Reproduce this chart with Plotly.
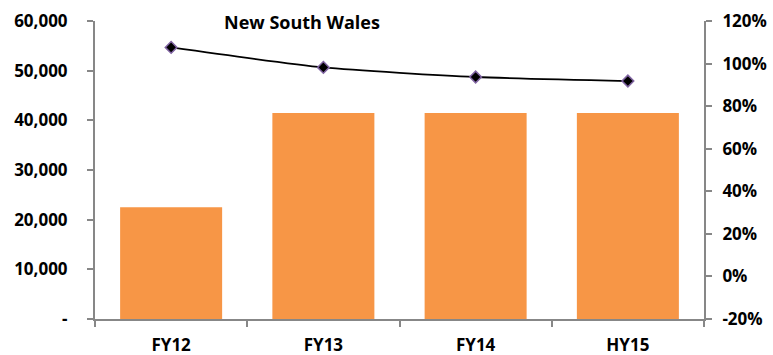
import plotly.graph_objects as go

# Data
categories = ["FY12", "FY13", "FY14", "HY15"]
bar_values = [22500, 41500, 41500, 41500]
line_values = [1.076, 0.982, 0.937, 0.918]

left_tickvals = [0, 10000, 20000, 30000, 40000, 50000, 60000]
left_ticktext = ["-", "10,000", "20,000", "30,000", "40,000", "50,000", "60,000"]
right_tickvals = [-0.2, 0.0, 0.2, 0.4, 0.6, 0.8, 1.0, 1.2]
right_ticktext = ["-20%", "0%", "20%", "40%", "60%", "80%", "100%", "120%"]

title_text = "New South Wales"

FONT = "Open Sans"
AXIS_GREY = "#878787"

fig = go.Figure()

fig.add_trace(go.Bar(
    x=categories,
    y=bar_values,
    marker=dict(color="#F79646", line=dict(width=0)),
    yaxis="y",
    showlegend=False,
))

fig.add_trace(go.Scatter(
    x=categories,
    y=line_values,
    mode="lines+markers",
    line=dict(color="#000000", width=1.8, shape="spline", smoothing=0.6),
    marker=dict(symbol="diamond", size=9, color="#000000",
                line=dict(color="#8064A2", width=1.5)),
    yaxis="y2",
    showlegend=False,
))

tick_font = dict(family=FONT, size=17, color="#000000", weight="bold")

fig.update_layout(
    width=773,
    height=355,
    margin=dict(l=95, r=69, t=21, b=36, autoexpand=False),
    paper_bgcolor="white",
    plot_bgcolor="white",
    bargap=0.33,
    title=dict(
        text=title_text,
        x=302 / 773, xanchor="center",
        y=1 - 23 / 355, yanchor="middle",
        font=dict(family=FONT, size=18, color="#000000", weight="bold"),
    ),
    xaxis=dict(
        type="category",
        automargin=False,
        showline=True, linecolor=AXIS_GREY, linewidth=2,
        ticks="outside", tickson="boundaries", ticklen=6,
        tickcolor=AXIS_GREY, tickwidth=2,
        tickfont=tick_font,
        ticklabelstandoff=10,
        showgrid=False, zeroline=False,
    ),
    yaxis=dict(
        range=[0, 60000],
        automargin=False,
        tickvals=left_tickvals, ticktext=left_ticktext,
        showline=True, linecolor=AXIS_GREY, linewidth=2,
        ticks="outside", ticklen=6, tickcolor=AXIS_GREY, tickwidth=2,
        tickfont=tick_font,
        ticklabelstandoff=16,
        showgrid=False, zeroline=False,
    ),
    yaxis2=dict(
        range=[-0.2, 1.2],
        automargin=False,
        overlaying="y", side="right",
        tickvals=right_tickvals, ticktext=right_ticktext,
        showline=True, linecolor=AXIS_GREY, linewidth=2,
        ticks="outside", ticklen=6, tickcolor=AXIS_GREY, tickwidth=2,
        tickfont=tick_font,
        ticklabelstandoff=7,
        showgrid=False, zeroline=False,
    ),
)

fig.write_html("out.html")
